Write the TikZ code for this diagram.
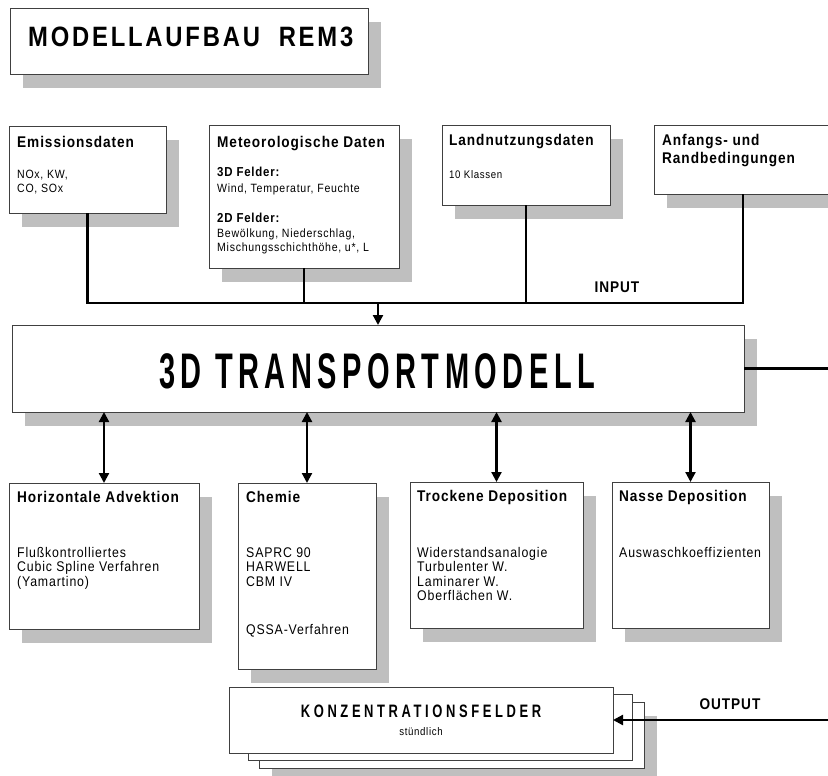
\documentclass[tikz,border=0pt]{standalone}
\usepackage{fontspec}
\setmainfont{Liberation Sans}
\newfontfamily\bodyf{Liberation Sans}[FakeStretch=0.88,LetterSpace=6]
\newfontfamily\bigf{Liberation Sans}[FakeStretch=0.58,LetterSpace=11]
\newfontfamily\titf{Liberation Sans}[FakeStretch=0.85,LetterSpace=10]
\newfontfamily\konzf{Liberation Sans}[FakeStretch=0.72,LetterSpace=20]
\usetikzlibrary{shadows,arrows.meta}
\tikzset{
  plainbox/.style={draw=black!75, line width=0.8pt, fill=white, inner sep=0pt, outer sep=0pt, anchor=north west},
  box/.style={plainbox, drop shadow={shadow xshift=13pt, shadow yshift=-14pt, fill=black!25, opacity=1}},
  txt/.style={inner sep=0pt, anchor=base west, font=\bodyf\fontsize{12}{14}\selectfont},
  btxt/.style={inner sep=0pt, anchor=base west, font=\bodyf\fontsize{14}{16}\selectfont},
  head/.style={inner sep=0pt, anchor=base west, font=\bodyf\bfseries\fontsize{15.5}{18}\selectfont},
  sub/.style={inner sep=0pt, anchor=base west, font=\bodyf\bfseries\fontsize{13}{15}\selectfont},
  conn/.style={line width=2.2pt, black},
  arr/.style={conn, -{Triangle[length=10pt,width=10pt]}},
  biarr/.style={conn, {Triangle[length=10pt,width=10pt]}-{Triangle[length=10pt,width=10pt]}}
}
\begin{document}
\begin{tikzpicture}[x=1pt,y=-1pt]
\useasboundingbox (0,0) rectangle (828,776);
\clip (0,0) rectangle (828,776);
\fill[white] (0,0) rectangle (828,776);

% title
\node[box, minimum width=358pt, minimum height=66pt] (title) at (10,8) {};
\node[inner sep=0pt, anchor=base west, font=\titf\bfseries\fontsize{28}{32}\selectfont] (titletxt) at (28,47) {MODELLAUFBAU\ \ REM3};

% input boxes
\node[box, minimum width=157pt, minimum height=87pt] (emi) at (9,126) {};
\node[box, minimum width=190pt, minimum height=143pt] (met) at (209,125) {};
\node[box, minimum width=168pt, minimum height=80pt] (land) at (442,125) {};
\node[box, minimum width=178pt, minimum height=69pt] (anf) at (654,125) {};

\node[head] (emih) at (17,147) {Emissionsdaten};
\node[txt] (emi1) at (17,178) {NOx, KW,};
\node[txt] (emi2) at (17,192) {CO, SOx};

\node[head] (meth) at (217,147) {Meteorologische Daten};
\node[sub] (met1) at (217,176) {3D Felder:};
\node[txt] (met2) at (217,192) {Wind, Temperatur, Feuchte};
\node[sub] (met3) at (217,222) {2D Felder:};
\node[txt] (met4) at (217,237) {Bewölkung, Niederschlag,};
\node[txt] (met5) at (217,251) {Mischungsschichthöhe, u*, L};

\node[head] (landh) at (449,146) {Landnutzungsdaten};
\node[inner sep=0pt, anchor=base west, font=\bodyf\fontsize{11}{13}\selectfont] (land1) at (449,178) {10 Klassen};

\node[head] (anfh1) at (662,146) {Anfangs- und};
\node[head] (anfh2) at (662,163) {Randbedingungen};

\node[head, anchor=base] (input) at (617,292) {INPUT};

% transport model
\node[box, minimum width=732pt, minimum height=87pt] (td) at (12,325) {};
\node[inner sep=0pt, anchor=base, font=\bigf\bfseries\fontsize{50}{60}\selectfont] (tdtxt) at (377,388) {3D TRANSPORTMODELL};

% process boxes
\node[box, minimum width=190pt, minimum height=146pt] (hadv) at (9,483) {};
\node[box, minimum width=138pt, minimum height=186pt] (chem) at (238,483) {};
\node[box, minimum width=173pt, minimum height=146pt] (trock) at (410,482) {};
\node[box, minimum width=157pt, minimum height=146pt] (nass) at (612,482) {};

\node[head] (hadvh) at (17,502) {Horizontale Advektion};
\node[btxt] (hadv1) at (17,557) {Flußkontrolliertes};
\node[btxt] (hadv2) at (17,571.5) {Cubic Spline Verfahren};
\node[btxt] (hadv3) at (17,586) {(Yamartino)};

\node[head] (chemh) at (246,502) {Chemie};
\node[btxt] (chem1) at (246,557) {SAPRC 90};
\node[btxt] (chem2) at (246,571.5) {HARWELL};
\node[btxt] (chem3) at (246,586) {CBM IV};
\node[btxt] (chem4) at (246,634) {QSSA-Verfahren};

\node[head] (trockh) at (417,501) {Trockene Deposition};
\node[btxt] (trock1) at (417,557) {Widerstandsanalogie};
\node[btxt] (trock2) at (417,571.5) {Turbulenter W.};
\node[btxt] (trock3) at (417,586) {Laminarer W.};
\node[btxt] (trock4) at (417,600) {Oberflächen W.};

\node[head] (nassh) at (619,501) {Nasse Deposition};
\node[btxt] (nass1) at (619,557) {Auswaschkoeffizienten};

% output stack
\node[box, minimum width=385pt, minimum height=66pt] (k3) at (259,702) {};
\node[plainbox, minimum width=384pt, minimum height=66pt] (k2) at (248,694) {};
\node[plainbox, minimum width=384pt, minimum height=66pt] (k1) at (229,687) {};
\node[inner sep=0pt, anchor=base, font=\konzf\bfseries\fontsize{18}{20}\selectfont] (konz) at (421,717) {KONZENTRATIONSFELDER};
\node[inner sep=0pt, anchor=base, font=\bodyf\fontsize{11}{13}\selectfont] (stund) at (421,735) {stündlich};
\node[head, anchor=base] (output) at (730,709) {OUTPUT};

% connectors
\coordinate (bus) at (378,303);
\coordinate (rside) at (850,500);
\draw[conn] (emi.south) |- (bus) -| (anf.south);
\draw[conn] (met.south) -- (met.south |- bus);
\draw[conn] (land.south) -- (land.south |- bus);
\draw[arr] (bus) -- (td.north -| bus);

\draw[biarr] (hadv.north |- td.south) -- (hadv.north);
\draw[biarr] (chem.north |- td.south) -- (chem.north);
\draw[biarr] (trock.north |- td.south) -- (trock.north);
\draw[biarr] (nass.north |- td.south) -- (nass.north);

\draw[arr] (td.east) -| (rside) |- (k1.east);
\end{tikzpicture}
\end{document}
